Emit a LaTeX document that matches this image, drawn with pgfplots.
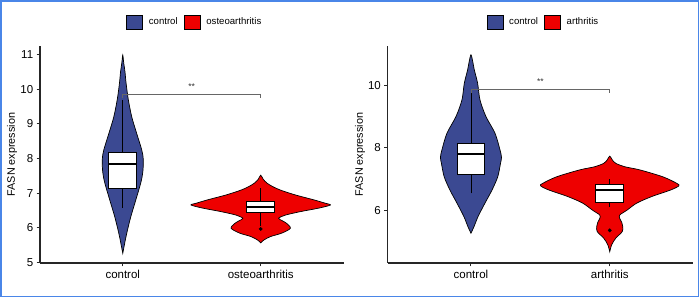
\documentclass[border=0pt]{standalone}
\usepackage{fontspec}
\setmainfont{Liberation Sans}
\usepackage{pgfplots}
\usepackage{pgfplotstable}
\pgfplotsset{compat=1.18}
\definecolor{cblue}{HTML}{3B4992}
\definecolor{cred}{HTML}{EE0000}
\definecolor{framec}{HTML}{4A86E8}

% violin outlines: y, signed half-width (x units)
\pgfplotstableread{
y w
5.27 0
5.56 0.014
5.85 0.029
6.32 0.058
6.80 0.094
7.29 0.130
7.60 0.145
7.96 0.149
8.24 0.138
8.72 0.101
9.20 0.065
9.70 0.040
10.17 0.024
10.50 0.016
10.75 0.007
10.98 0
10.75 -0.007
10.50 -0.016
10.17 -0.024
9.70 -0.040
9.20 -0.065
8.72 -0.101
8.24 -0.138
7.96 -0.149
7.60 -0.145
7.29 -0.130
6.80 -0.094
6.32 -0.058
5.85 -0.029
5.56 -0.014
5.27 0
}\lc

\pgfplotstableread{
y w
5.57 0
5.65 0.022
5.75 0.070
5.85 0.152
5.99 0.215
6.13 0.188
6.21 0.155
6.28 0.130
6.37 0.179
6.47 0.288
6.57 0.420
6.66 0.505
6.71 0.469
6.81 0.384
6.95 0.251
7.09 0.143
7.19 0.087
7.29 0.046
7.40 0.018
7.52 0
7.40 -0.018
7.29 -0.046
7.19 -0.087
7.09 -0.143
6.95 -0.251
6.81 -0.384
6.71 -0.469
6.66 -0.505
6.57 -0.420
6.47 -0.288
6.37 -0.179
6.28 -0.130
6.21 -0.155
6.13 -0.188
5.99 -0.215
5.85 -0.152
5.75 -0.070
5.65 -0.022
5.57 0
}\lo

\pgfplotstableread{
y w
5.28 0
5.49 0.022
5.81 0.051
6.24 0.101
6.66 0.152
7.08 0.193
7.51 0.213
7.70 0.220
7.94 0.209
8.47 0.173
9.00 0.108
9.53 0.065
10.06 0.048
10.49 0.024
10.75 0.013
10.97 0
10.75 -0.013
10.49 -0.024
10.06 -0.048
9.53 -0.065
9.00 -0.108
8.47 -0.173
7.94 -0.209
7.70 -0.220
7.51 -0.213
7.08 -0.193
6.66 -0.152
6.24 -0.101
5.81 -0.051
5.49 -0.022
5.28 0
}\rc

\pgfplotstableread{
y w
4.69 0
4.91 0.014
5.12 0.043
5.33 0.090
5.49 0.094
5.62 0.087
5.75 0.072
5.86 0.072
6.02 0.126
6.24 0.195
6.45 0.303
6.66 0.440
6.79 0.498
6.87 0.483
7.08 0.382
7.30 0.216
7.40 0.108
7.51 0.043
7.62 0.018
7.74 0
7.62 -0.018
7.51 -0.043
7.40 -0.108
7.30 -0.216
7.08 -0.382
6.87 -0.483
6.79 -0.498
6.66 -0.440
6.45 -0.303
6.24 -0.195
6.02 -0.126
5.86 -0.072
5.75 -0.072
5.62 -0.087
5.49 -0.094
5.33 -0.090
5.12 -0.043
4.91 -0.014
4.69 0
}\ra

\pgfplotsset{
  vstyle/.style={
    scale only axis, height=217bp,
    enlargelimits=false,
    axis x line*=bottom, axis y line*=left,
    axis line style={-, line width=1.1bp, black!85},
    tick align=outside, major tick length=3.3bp,
    tick style={line width=1bp, black!85},
    xmin=0.4, xmax=2.6, xtick={1,2},
    tick label style={font=\fontsize{11.5bp}{13bp}\selectfont, black},
    /pgf/number format/assume math mode=true,
    ylabel={FASN expression},
    legend columns=2,
    legend style={at={(0.5,1)}, anchor=center, yshift=24bp, xshift=2bp, draw=none, fill=none,
      inner sep=0pt, column sep=6bp, font=\fontsize{9.6bp}{11bp}\selectfont,
      nodes={inner sep=0pt}},
    legend image code/.code={\draw[#1] (0bp,-7bp) rectangle (16bp,7bp);},
  },
  vio/.style={draw=black, line width=0.7bp, smooth, tension=0.5},
  wh/.style={forget plot, black, line width=0.9bp},
  bx/.style={forget plot, fill=white, draw=black, line width=1bp},
  md/.style={forget plot, black, line width=2bp},
  br/.style={forget plot, black!60, line width=0.6bp},
}

\begin{document}
\begin{tikzpicture}
\path[use as bounding box] (0,0) rectangle (700bp,298bp);
\fill[white] (0,0) rectangle (700bp,298bp);
\draw[framec, line width=1.5bp] (1bp,1.4bp) rectangle (698.6bp,297bp);

% ---- left panel ----
\begin{axis}[vstyle, at={(40bp,35bp)}, anchor=south west, width=303.5bp,
  ymin=4.99, ymax=11.24, ytick={5,6,7,8,9,10,11},
  xticklabels={control,osteoarthritis},
  every axis y label/.style={at={(axis description cs:-0.0923,0.5)}, rotate=90, anchor=center, font=\fontsize{10.8bp}{12bp}\selectfont}]
\addplot[vio, fill=cblue] table[x expr=1+\thisrow{w}, y=y] {\lc} -- cycle;
\addlegendentry{control}
\addplot[vio, fill=cred] table[x expr=2+\thisrow{w}, y=y] {\lo} -- cycle;
\addlegendentry{osteoarthritis}
\addplot[wh] coordinates {(1,6.58) (1,9.68)};
\addplot[bx] coordinates {(0.9,7.14) (1.1,7.14) (1.1,8.17) (0.9,8.17)} -- cycle;
\addplot[md] coordinates {(0.9,7.83) (1.1,7.83)};
\addplot[wh] coordinates {(2,6.05) (2,7.14)};
\addplot[bx] coordinates {(1.9,6.45) (2.1,6.45) (2.1,6.77) (1.9,6.77)} -- cycle;
\addplot[md] coordinates {(1.9,6.60) (2.1,6.60)};
\addplot[forget plot, only marks, mark=*, mark size=1.7bp, black] coordinates {(2,5.97)};
\addplot[br] coordinates {(1,9.73) (1,9.85) (2,9.85) (2,9.73)};
\node[font=\fontsize{8.5bp}{9bp}\selectfont, black!80] at (axis cs:1.5,10.06) {**};
\end{axis}

% ---- right panel ----
\begin{axis}[vstyle, at={(387.7bp,35bp)}, anchor=south west, width=305.3bp,
  ymin=4.33, ymax=11.25, ytick={6,8,10},
  xticklabels={control,arthritis},
  every axis y label/.style={at={(axis description cs:-0.0907,0.5)}, rotate=90, anchor=center, font=\fontsize{10.8bp}{12bp}\selectfont}]
\addplot[vio, fill=cblue] table[x expr=1+\thisrow{w}, y=y] {\rc} -- cycle;
\addlegendentry{control}
\addplot[vio, fill=cred] table[x expr=2+\thisrow{w}, y=y] {\ra} -- cycle;
\addlegendentry{arthritis}
\addplot[wh] coordinates {(1,6.55) (1,9.74)};
\addplot[bx] coordinates {(0.9,7.14) (1.1,7.14) (1.1,8.15) (0.9,8.15)} -- cycle;
\addplot[md] coordinates {(0.9,7.81) (1.1,7.81)};
\addplot[wh] coordinates {(2,6.13) (2,7.00)};
\addplot[bx] coordinates {(1.9,6.27) (2.1,6.27) (2.1,6.84) (1.9,6.84)} -- cycle;
\addplot[md] coordinates {(1.9,6.65) (2.1,6.65)};
\addplot[forget plot, only marks, mark=*, mark size=1.7bp, black] coordinates {(2,5.37)};
\addplot[br] coordinates {(1,9.74) (1,9.87) (2,9.87) (2,9.74)};
\node[font=\fontsize{8.5bp}{9bp}\selectfont, black!80] at (axis cs:1.5,10.12) {**};
\end{axis}
\end{tikzpicture}
\end{document}
